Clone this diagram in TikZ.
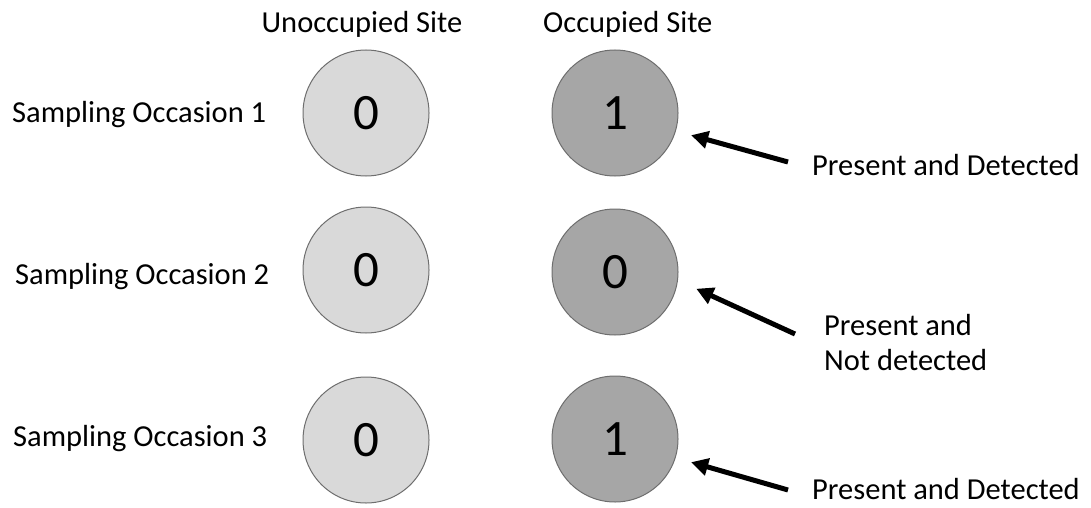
\documentclass[tikz,border=0pt]{standalone}
\usepackage{fontspec}
\setmainfont{Carlito}
\usetikzlibrary{arrows.meta}
\definecolor{emptyfill}{HTML}{D9D9D9}
\definecolor{fullfill}{HTML}{A6A6A6}
\definecolor{rim}{HTML}{6E6E6E}
\tikzset{
  lbl/.style={font=\fontsize{30.5}{35}\selectfont, inner sep=0pt},
  site/.style={circle, draw=rim, line width=1pt, minimum size=126pt, inner sep=0pt,
               font=\fontsize{51}{60}\selectfont},
  emptysite/.style={site, fill=emptyfill},
  fullsite/.style={site, fill=fullfill},
  pointer/.style={line width=5pt, -{Triangle[length=17pt,width=17pt]}, shorten >=-3pt},
}
\begin{document}
\begin{tikzpicture}[x=1pt,y=-1pt]
  \useasboundingbox (0,0) rectangle (1091,508);
  % column headings
  \node[lbl, anchor=base] (hU) at (362,33) {Unoccupied Site};
  \node[lbl, anchor=base west] (hO) at (543,33) {Occupied Site};
  % row labels
  \node[lbl, anchor=base west] (r1) at (12,123) {Sampling Occasion 1};
  \node[lbl, anchor=base west] (r2) at (15,284) {Sampling Occasion 2};
  \node[lbl, anchor=base west] (r3) at (13,446) {Sampling Occasion 3};
  % sites
  \node[emptysite] (u1) at (366,113) {0};
  \node[emptysite] (u2) at (366,270) {0};
  \node[emptysite] (u3) at (366,440) {0};
  \node[fullsite] (o1) at (615,113) {1};
  \node[fullsite] (o2) at (615,272) {0};
  \node[fullsite] (o3) at (615,439) {1};
  % annotations
  \node[lbl, anchor=base west] (a1) at (812,175) {Present and Detected};
  \node[lbl, anchor=base west] (a2a) at (824,335) {Present and};
  \node[lbl, anchor=base west] (a2b) at (824,370) {Not detected};
  \node[lbl, anchor=base west] (a3) at (812,499) {Present and Detected};
  \coordinate (t1) at (788,162);
  \coordinate (t2) at (795,334);
  \coordinate (t3) at (788,490);
  \coordinate (p1) at (694,136);
  \coordinate (p2) at (699,290);
  \coordinate (p3) at (694,463);
  \draw[pointer] (t1) -- (p1);
  \draw[pointer] (t2) -- (p2);
  \draw[pointer] (t3) -- (p3);
\end{tikzpicture}
\end{document}
